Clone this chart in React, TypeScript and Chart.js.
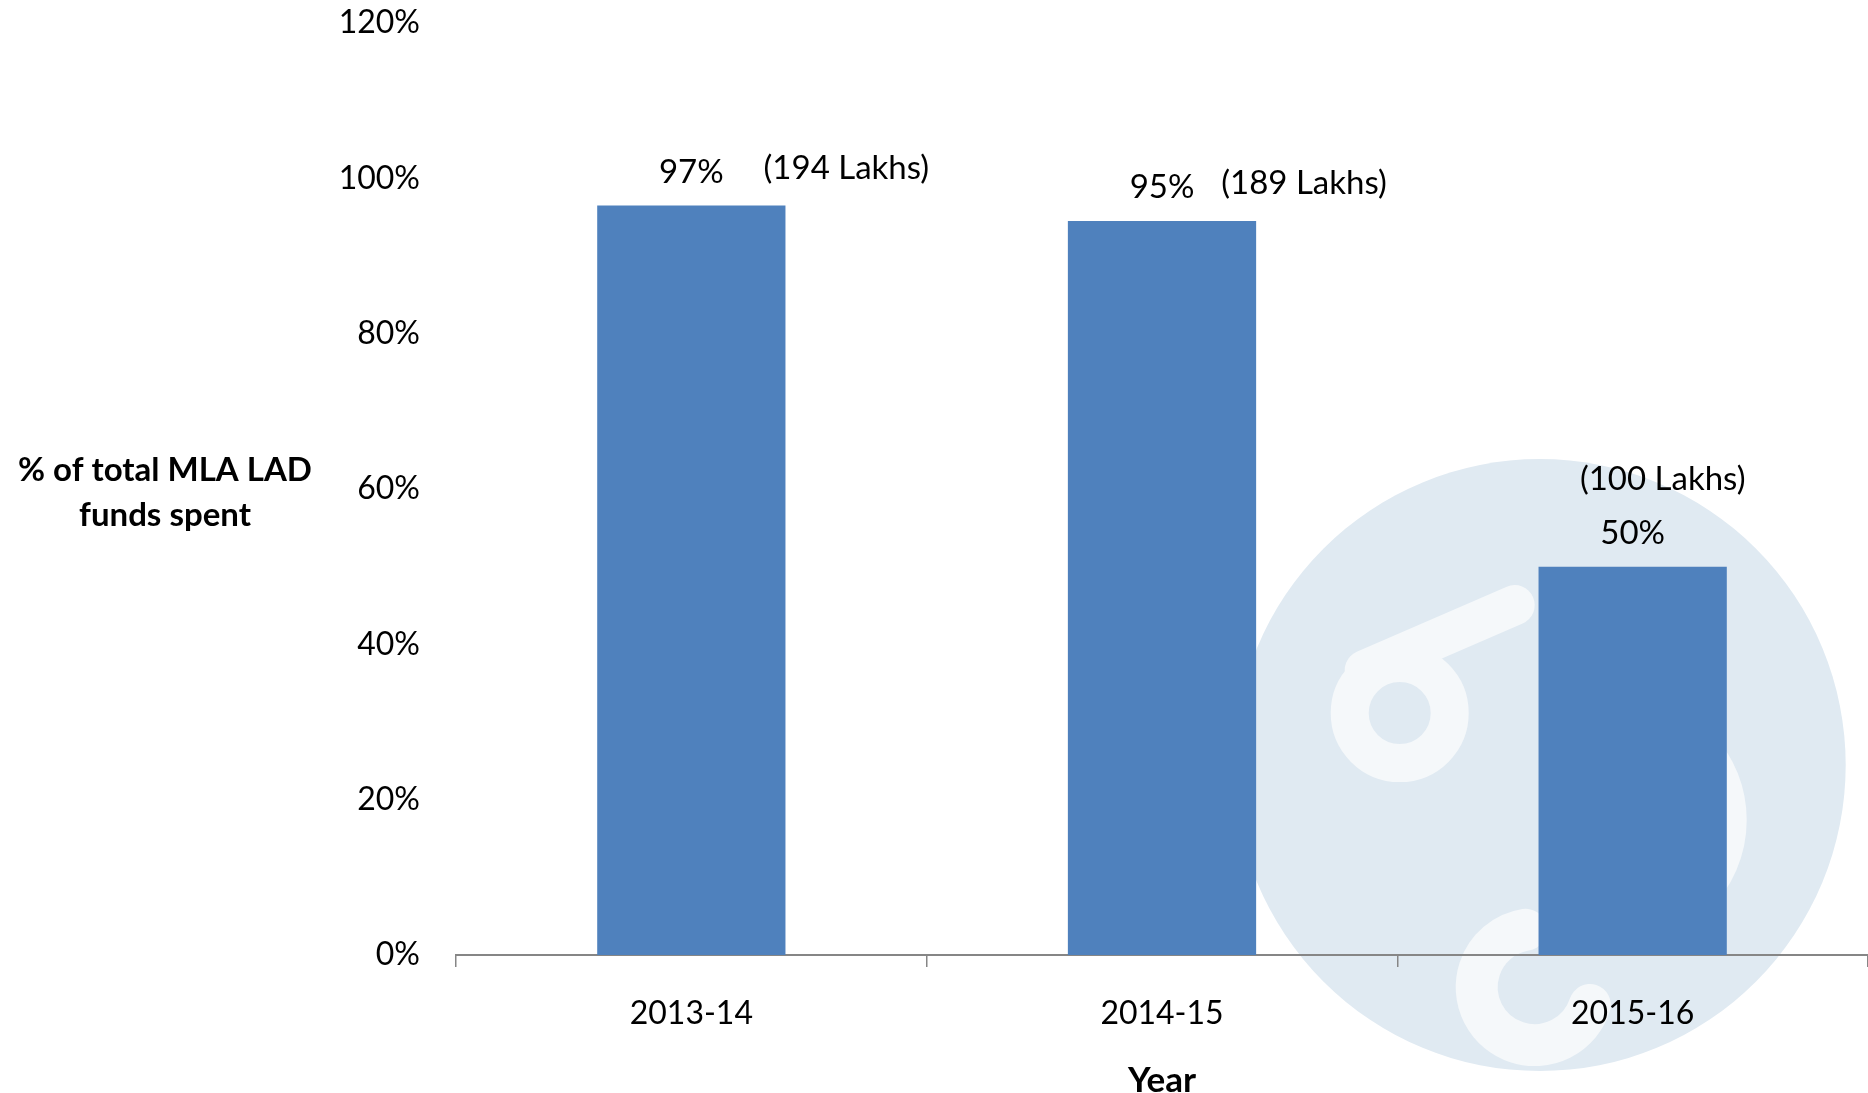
import React, { useEffect, useRef } from "react";
import { Chart, registerables } from "chart.js";

Chart.register(...registerables);

const categories = ["2013-14", "2014-15", "2015-16"];
const percentSpent = [96.5, 94.5, 50];
const lakhsSpent = [194, 189, 100];
const yTicks = [0, 20, 40, 60, 80, 100, 120];

const yTitleLines = ["% of total MLA LAD", "funds spent"];
const xTitle = "Year";

const FONT = "Lato, 'Open Sans', sans-serif";
const BAR_COLOR = "#4F81BD";
const AXIS_COLOR = "#868686";

// label placement offsets (px) relative to bar top/center
const lakhsDx = [155, 142, 30];
const lakhsDy = [-39, -39, -89];

const watermarkPlugin = {
  id: "watermark",
  beforeDraw(chart: any) {
    const ctx = chart.ctx;
    const ca = chart.chartArea;
    const w = ca.right - ca.left;
    const h = chart.height;
    const cx = ca.left + w * 0.7675;
    const cy = h * 0.7;
    const r = w * 0.2167;
    ctx.save();
    ctx.fillStyle = "#e0eaf2";
    ctx.beginPath();
    ctx.arc(cx, cy, r, 0, Math.PI * 2);
    ctx.fill();
    ctx.strokeStyle = "#f5f8fa";
    ctx.lineCap = "round";
    ctx.lineWidth = 38;
    ctx.beginPath();
    ctx.arc(cx - 140, cy - 52, 50, 0, Math.PI * 2);
    ctx.stroke();
    ctx.lineWidth = 40;
    ctx.beginPath();
    ctx.moveTo(cx - 175, cy - 95);
    ctx.lineTo(cx - 25, cy - 160);
    ctx.stroke();
    ctx.lineWidth = 44;
    ctx.beginPath();
    ctx.arc(cx + 80, cy + 55, 105, -Math.PI * 0.62, Math.PI * 0.55);
    ctx.stroke();
    ctx.lineWidth = 42;
    ctx.beginPath();
    ctx.arc(cx - 5, cy + 222, 58, Math.PI * 0.1, Math.PI * 1.45);
    ctx.stroke();
    ctx.restore();
  },
};

const labelsPlugin = {
  id: "barLabels",
  afterDatasetsDraw(chart: any) {
    const ctx = chart.ctx;
    const meta = chart.getDatasetMeta(0);
    ctx.save();
    ctx.fillStyle = "#000";
    ctx.font = `33px ${FONT}`;
    ctx.textAlign = "center";
    ctx.textBaseline = "alphabetic";
    meta.data.forEach((bar: any, i: number) => {
      const v = percentSpent[i];
      ctx.fillText(`${Math.round(v)}%`, bar.x, bar.y - 35 + 12);
      ctx.fillText(`(${lakhsSpent[i]} Lakhs)`, bar.x + lakhsDx[i], bar.y + lakhsDy[i] + 12);
    });
    ctx.restore();
  },
  afterDraw(chart: any) {
    const ctx = chart.ctx;
    const ca = chart.chartArea;
    ctx.save();
    ctx.fillStyle = "#000";
    ctx.textAlign = "center";
    ctx.textBaseline = "alphabetic";
    ctx.font = `bold 33px ${FONT}`;
    const midY = (ca.top + ca.bottom) / 2;
    ctx.fillText(yTitleLines[0], 165, midY - 20 + 12);
    ctx.fillText(yTitleLines[1], 165, midY + 25 + 12);
    ctx.font = `bold 35px ${FONT}`;
    ctx.fillText(xTitle, (ca.left + ca.right) / 2, chart.height - 1);
    ctx.restore();
  },
};

export default function App() {
  const ref = useRef<HTMLCanvasElement | null>(null);
  useEffect(() => {
    document.body.style.margin = "0";
    if (!ref.current) return;
    const chart = new Chart(ref.current, {
      type: "bar",
      data: {
        labels: categories,
        datasets: [
          {
            data: percentSpent,
            backgroundColor: BAR_COLOR,
            borderWidth: 0,
            barPercentage: 0.4,
            categoryPercentage: 1.0,
          },
        ],
      },
      options: {
        animation: false,
        responsive: false,
        devicePixelRatio: 1,
        layout: { padding: { top: 23, left: 0, right: 0, bottom: 0 } },
        plugins: {
          legend: { display: false },
          tooltip: { enabled: false },
          title: { display: false },
        },
        scales: {
          x: {
            type: "category",
            offset: true,
            grid: {
              display: true,
              offset: true,
              drawOnChartArea: false,
              drawTicks: true,
              tickLength: 12,
              color: AXIS_COLOR,
              lineWidth: 1.5,
            },
            border: { display: true, color: AXIS_COLOR, width: 2 },
            ticks: { color: "#000", font: { family: FONT, size: 32 }, padding: 27 },
            afterFit: (scale: any) => {
              scale.height = 138;
              scale.paddingLeft = 0;
              scale.paddingRight = 0;
            },
          },
          y: {
            min: 0,
            max: 120,
            afterBuildTicks: (scale: any) => {
              scale.ticks = yTicks.map((v) => ({ value: v }));
            },
            grid: { display: false, drawTicks: false },
            border: { display: false },
            ticks: {
              color: "#000",
              font: { family: FONT, size: 32 },
              padding: 36,
              callback: (v: any) => `${v}%`,
            },
            afterFit: (scale: any) => {
              scale.width = 456;
              scale.paddingTop = 0;
              scale.paddingBottom = 0;
            },
          },
        },
      },
      plugins: [watermarkPlugin, labelsPlugin],
    });
    return () => chart.destroy();
  }, []);
  return (
    <div style={{ position: "absolute", left: 0, top: 0, width: 1868, height: 1093, background: "#fff" }}>
      <canvas ref={ref} width={1868} height={1093} style={{ display: "block" }} />
    </div>
  );
}
